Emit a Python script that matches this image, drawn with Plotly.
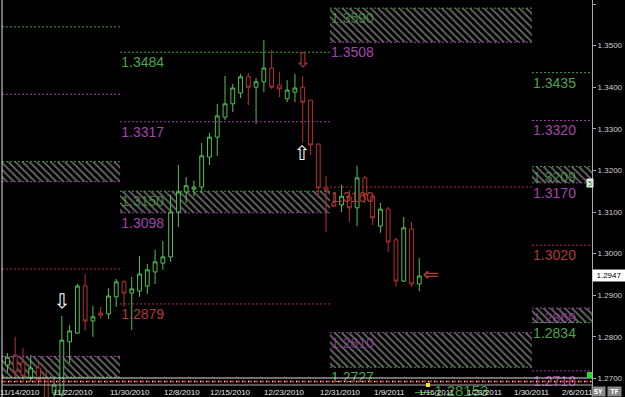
import plotly.graph_objects as go

# ---------------- data ----------------
date_tick_pos = [1.62, 8.44, 15.77, 22.46, 28.77, 35.72, 42.8, 49.2, 55.3, 61.5, 67.5, 73.3]
date_tick_text = ["11/14/2010", "11/22/2010", "11/30/2010", "12/8/2010", "12/15/2010", "12/23/2010",
                  "12/31/2010", "1/9/2011", "1/16/2011", "1/23/2011", "1/30/2011", "2/6/2011"]

price_ticks = [1.2700, 1.2800, 1.2900, 1.3000, 1.3100, 1.3200, 1.3300, 1.3400, 1.3500, 1.3600]

candle_open = [1.2732, 1.2756, 1.2739, 1.2701, 1.2725, 1.2701, 1.2665, 1.2660, 1.2788, 1.2809,
               1.2922, 1.2838, 1.2857, 1.2855, 1.2896, 1.2932, 1.2905, 1.2910, 1.2922, 1.2956,
               1.2977, 1.2992, 1.3100, 1.3148, 1.3155, 1.3160, 1.3232, 1.3280, 1.3328, 1.3360,
               1.3386, 1.3425, 1.3400, 1.3413, 1.3446, 1.3405, 1.3372, 1.3388, 1.3400, 1.3369,
               1.3263, 1.3160, 1.3122, 1.3117, 1.3136, 1.3110, 1.3182, 1.3138, 1.3066, 1.3107,
               1.3033, 1.2934, 1.3059, 1.2927]
candle_high = [1.2761, 1.2800, 1.2773, 1.2756, 1.2739, 1.2720, 1.2701, 1.2850, 1.2828, 1.2927,
               1.2951, 1.2874, 1.2872, 1.2917, 1.2939, 1.2937, 1.2944, 1.2994, 1.2975, 1.3009,
               1.3030, 1.3141, 1.3213, 1.3184, 1.3175, 1.3266, 1.3290, 1.3360, 1.3427, 1.3408,
               1.3432, 1.3434, 1.3422, 1.3513, 1.3489, 1.3437, 1.3417, 1.3432, 1.3427, 1.3369,
               1.3266, 1.3187, 1.3148, 1.3165, 1.3153, 1.3211, 1.3187, 1.3143, 1.3122, 1.3112,
               1.3038, 1.3088, 1.3076, 1.2989]
candle_low = [1.2715, 1.2703, 1.2696, 1.2691, 1.2684, 1.2624, 1.2648, 1.2636, 1.2737, 1.2807,
              1.2814, 1.2800, 1.2843, 1.2843, 1.2872, 1.2872, 1.2816, 1.2896, 1.2903, 1.2927,
              1.2961, 1.2980, 1.3064, 1.3122, 1.3138, 1.3146, 1.3213, 1.3235, 1.3321, 1.3340,
              1.3374, 1.3357, 1.3312, 1.3388, 1.3396, 1.3376, 1.3364, 1.3364, 1.3268, 1.3237,
              1.3134, 1.3052, 1.3112, 1.3100, 1.3076, 1.3066, 1.3122, 1.3069, 1.3050, 1.3004,
              1.2920, 1.2932, 1.2920, 1.2910]
candle_close = [1.2751, 1.2715, 1.2706, 1.2725, 1.2696, 1.2648, 1.2684, 1.2792, 1.2814, 1.2922,
                1.2838, 1.2848, 1.2852, 1.2898, 1.2932, 1.2905, 1.2915, 1.2951, 1.2961, 1.2980,
                1.2992, 1.3100, 1.3148, 1.3163, 1.3160, 1.3235, 1.3280, 1.3331, 1.3360, 1.3398,
                1.3425, 1.3400, 1.3413, 1.3446, 1.3400, 1.3396, 1.3393, 1.3398, 1.3364, 1.3261,
                1.3158, 1.3153, 1.3114, 1.3138, 1.3110, 1.3182, 1.3141, 1.3086, 1.3107, 1.3028,
                1.2934, 1.3062, 1.2927, 1.2946]
bar_index = list(range(len(candle_open)))

period_start = [-0.70, 14.5, 41.5, 67.5]
period_end = [14.5, 41.5, 67.5, 75.23]

line_period = [0, 0, 0, 1, 1, 1, 2, 3, 3, 3, 3]
line_price = [1.3545, 1.3383, 1.2963, 1.3484, 1.3317, 1.2879, 1.3160, 1.3435, 1.3320, 1.3020, 1.2718]
line_kind = ["g", "m", "r", "g", "m", "r", "r", "g", "m", "r", "m"]

zone_period = [0, 0, 1, 2, 2, 3, 3]
zone_low = [1.3173, 1.2703, 1.3098, 1.3508, 1.2727, 1.3170, 1.2834]
zone_high = [1.3221, 1.2753, 1.3150, 1.3590, 1.2810, 1.3209, 1.2869]
zone_above = [True, False, True, True, False, True, False]

signal_x = [7.0, 38.0, 37.9, 54.5]
signal_y = [1.2881, 1.3461, 1.3237, 1.2947]
signal_glyph = ["⇩", "⇩", "⇧", "⇐"]
signal_kind = ["w", "r", "w", "r"]

last_price = 1.2947

# ---------------- styles ----------------
LINE_COL = {"g": "#4a9e4a", "m": "#a040a6", "r": "#a83232", "w": "#ffffff"}
TEXT_COL = {"g": "#4fa34f", "m": "#a545ab", "r": "#b23a3a", "w": "#ffffff"}
DIM_COL = {"g": "rgba(79,163,79,0.75)", "m": "rgba(165,69,171,0.75)"}
UP_COL = "#52c052"
DN_COL = "#b83030"
Y_RANGE = [1.265529, 1.360962]
X_RANGE = [-0.70, 75.23]
PX_PER_PRICE = 397 / (Y_RANGE[1] - Y_RANGE[0])
LABEL_DROP = 4.5 / PX_PER_PRICE          # label sits a few px below its line
LABEL_FONT = dict(family="Liberation Sans, Arial", size=14)
LABEL_DX = 0.15

fig = go.Figure()

# labels that sit inside the hatched zones (drawn beneath the hatch)
hx, hy, ht, hc = [], [], [], []
for p, lo, hi, ab in zip(zone_period, zone_low, zone_high, zone_above):
    if p == 0:
        continue
    hx.append(period_start[p] + LABEL_DX)
    hy.append(hi - LABEL_DROP)
    ht.append(f"{hi:.4f}")
    hc.append(DIM_COL["g"] if ab else DIM_COL["m"])
fig.add_trace(go.Scatter(x=hx, y=hy, text=ht, mode="text", textposition="bottom right",
                         textfont=dict(color=hc, **LABEL_FONT), hoverinfo="skip"))

# hatched zones
fig.add_trace(go.Bar(
    x=[(period_start[p] + period_end[p]) / 2 for p in zone_period],
    width=[period_end[p] - period_start[p] for p in zone_period],
    base=zone_low,
    y=[h - l for h, l in zip(zone_high, zone_low)],
    marker=dict(color="rgba(0,0,0,0)", line=dict(width=0),
                pattern=dict(shape="\\", fgcolor="#d0d0d0", bgcolor="rgba(0,0,0,0)",
                             size=5, solidity=0.35)),
    hoverinfo="skip"))

# dotted level lines
segs = {"g": ([], []), "m": ([], []), "r": ([], [])}
for p, v, k in zip(line_period, line_price, line_kind):
    segs[k][0].extend([period_start[p], period_end[p], None])
    segs[k][1].extend([v, v, None])
for p, lo, hi, ab in zip(zone_period, zone_low, zone_high, zone_above):
    top_k, bot_k = ("g", "m") if ab else ("m", "g")
    segs[top_k][0].extend([period_start[p], period_end[p], None])
    segs[top_k][1].extend([hi, hi, None])
    segs[bot_k][0].extend([period_start[p], period_end[p], None])
    segs[bot_k][1].extend([lo, lo, None])
for k, (xs, ys) in segs.items():
    fig.add_trace(go.Scatter(x=xs, y=ys, mode="lines", hoverinfo="skip",
                             line=dict(color=LINE_COL[k], width=1, dash="2px,2px")))

# other level labels
lx, ly, lt, lc = [], [], [], []
for p, v, k in zip(line_period, line_price, line_kind):
    if p == 0:
        continue
    lx.append(period_start[p] + LABEL_DX); ly.append(v - LABEL_DROP); lt.append(f"{v:.4f}"); lc.append(TEXT_COL[k])
for p, lo, hi, ab in zip(zone_period, zone_low, zone_high, zone_above):
    if p == 0:
        continue
    lx.append(period_start[p] + LABEL_DX); ly.append(lo - LABEL_DROP); lt.append(f"{lo:.4f}")
    lc.append(TEXT_COL["m"] if ab else TEXT_COL["g"])
fig.add_trace(go.Scatter(x=lx, y=ly, text=lt, mode="text", textposition="bottom right",
                         textfont=dict(color=lc, **LABEL_FONT), hoverinfo="skip"))

# candles
fig.add_trace(go.Candlestick(
    x=bar_index, open=candle_open, high=candle_high, low=candle_low, close=candle_close,
    increasing=dict(line=dict(color=UP_COL, width=1), fillcolor="black"),
    decreasing=dict(line=dict(color=DN_COL, width=1), fillcolor="black"),
    whiskerwidth=0, hoverinfo="skip"))

# signal arrows
fig.add_trace(go.Scatter(x=signal_x, y=signal_y, text=signal_glyph, mode="text",
                         textposition="middle center",
                         textfont=dict(color=[TEXT_COL[k] for k in signal_kind], size=20,
                                       family="DejaVu Sans"),
                         hoverinfo="skip"))

# ---------------- layout ----------------
def px_to_paper_y(py):
    return (397 - py) / 397

def px_to_paper_x(px):
    return (px - 2) / 590

shapes = [
    dict(type="line", xref="paper", yref="paper", x0=0, x1=0, y0=0, y1=1,
         line=dict(color="#e8e8e8", width=1)),
    dict(type="line", xref="paper", yref="paper", x0=0, x1=1, y0=px_to_paper_y(378), y1=px_to_paper_y(378),
         line=dict(color="#e0e0e0", width=1)),
    dict(type="line", xref="paper", yref="paper", x0=0, x1=1, y0=px_to_paper_y(381.5), y1=px_to_paper_y(381.5),
         line=dict(color="#c03030", width=2, dash="4px,2px")),
    dict(type="line", xref="paper", yref="paper", x0=0, x1=1, y0=px_to_paper_y(381.5), y1=px_to_paper_y(381.5),
         line=dict(color="#ffffff", width=1, dash="1px,5px")),
    dict(type="line", xref="paper", yref="paper", x0=0, x1=1, y0=px_to_paper_y(385), y1=px_to_paper_y(385),
         line=dict(color="#b0b0b0", width=1)),
    dict(type="rect", xref="paper", yref="paper", x0=px_to_paper_x(587), x1=1.0,
         y0=px_to_paper_y(378), y1=px_to_paper_y(372), line=dict(width=0), fillcolor="#22dd22"),
    dict(type="rect", xref="paper", yref="paper", x0=px_to_paper_x(426), x1=px_to_paper_x(430),
         y0=px_to_paper_y(387), y1=px_to_paper_y(383), line=dict(width=0), fillcolor="#f0e040"),
]

annotations = [
    dict(xref="paper", x=px_to_paper_x(413), xanchor="left", yref="paper", y=px_to_paper_y(390),
         yanchor="middle", text="— 1.28153", showarrow=False,
         font=dict(color="#3f9f3f", size=15, family="Liberation Sans")),
]
for pos, txt in zip(date_tick_pos, date_tick_text):
    annotations.append(dict(xref="x", x=pos, xanchor="center", yref="paper", y=px_to_paper_y(392),
                            yanchor="middle", text=txt, showarrow=False,
                            font=dict(color="#e8e8e8", size=8, family="Liberation Sans")))
annotations += [
    dict(xref="paper", x=1.0, xanchor="left", yref="y", y=last_price, yanchor="middle",
         text=f"{last_price:.4f}", showarrow=False, bgcolor="white",
         font=dict(color="black", size=8, family="Liberation Sans"), width=30, borderpad=1),
    dict(xref="paper", x=px_to_paper_x(598), xanchor="center", yref="paper", y=px_to_paper_y(391.5),
         yanchor="middle", text="<b>5Y</b>", showarrow=False, bgcolor="#8a8a8a",
         font=dict(color="white", size=7), width=13, height=9, borderpad=0),
    dict(xref="paper", x=px_to_paper_x(614), xanchor="center", yref="paper", y=px_to_paper_y(391.5),
         yanchor="middle", text="<b>TF</b>", showarrow=False, bgcolor="#8a8a8a",
         font=dict(color="white", size=7), width=13, height=9, borderpad=0),
    dict(xref="paper", x=px_to_paper_x(589.5), xanchor="center", yref="paper", y=px_to_paper_y(183),
         yanchor="middle", text="5", showarrow=False, bgcolor="#d8ecd8",
         font=dict(color="#206020", size=7), width=6, height=8, borderpad=0),
]

fig.update_layout(
    width=625, height=397,
    margin=dict(l=2, r=33, t=0, b=0),
    paper_bgcolor="black", plot_bgcolor="black",
    showlegend=False, hovermode=False, barmode="overlay",
    xaxis=dict(range=X_RANGE, showgrid=False, zeroline=False, showline=False,
               showticklabels=False, ticks="",
               rangeslider=dict(visible=False), fixedrange=True),
    yaxis=dict(range=Y_RANGE, side="right", showgrid=False, zeroline=False,
               showline=True, linecolor="#a8a8a8", linewidth=1,
               tickmode="array", tickvals=price_ticks,
               ticktext=[f"{v:.4f}" for v in price_ticks],
               ticks="outside", ticklen=3, tickcolor="#a8a8a8",
               tickfont=dict(color="#d0d0d0", size=8, family="Liberation Sans"), fixedrange=True),
    shapes=shapes, annotations=annotations,
)

fig.write_html("out.html")
